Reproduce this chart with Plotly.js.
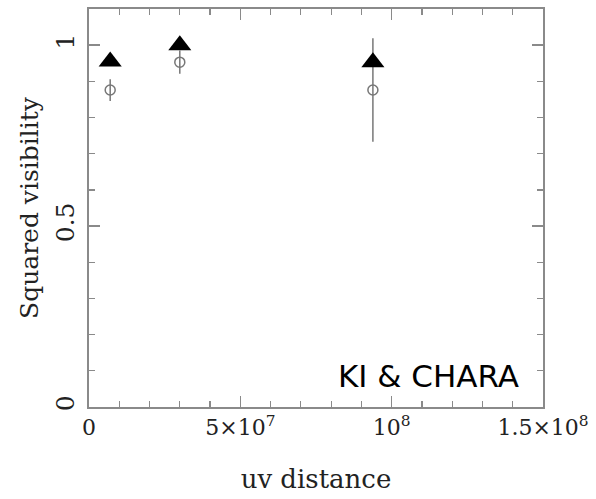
<!DOCTYPE html>
<html>
<head>
<meta charset="utf-8">
<script src="https://cdn.plot.ly/plotly-3.0.1.min.js"></script>
<style>html,body{margin:0;padding:0;background:#fff;}#chart{width:596px;height:499px;}</style>
</head>
<body>
<div id="chart"></div>
<script>
// uv distance of each baseline
const uvDistance = [7.0e6, 3.0e7, 9.38e7];
// Model squared visibilities (filled triangles)
const modelV2 = [0.955, 1.0, 0.953];
// Observed squared visibilities (open circles) and their errors
const obsV2 = [0.876, 0.953, 0.876];
const obsErr = [0.03, 0.032, 0.143];
// Tick labels
const xTickVals = [0, 5e7, 1e8, 1.5e8];
const xTickText = ['0', '5×10<sup>7</sup>', '10<sup>8</sup>', '1.5×10<sup>8</sup>'];
const yTickVals = [0, 0.5, 1];
const yTickText = ['0', '0.5', '1'];

const axisColor = '#8a8a8a';
const serif = 'DejaVu Serif, serif';
const textColor = '#222';

const traces = [
  {
    x: uvDistance, y: obsV2, type: 'scatter', mode: 'markers',
    marker: {symbol: 'circle-open', size: 10, color: '#777', line: {width: 1.5, color: '#777'}},
    error_y: {type: 'data', array: obsErr, visible: true, color: '#777', thickness: 1.5, width: 0},
    showlegend: false, hoverinfo: 'skip'
  },
  {
    x: uvDistance, y: modelV2, type: 'scatter', mode: 'markers',
    marker: {symbol: 'triangle-up', size: 20, color: '#000'},
    showlegend: false, hoverinfo: 'skip'
  }
];

const layout = {
  width: 596, height: 499,
  margin: {l: 89, r: 53, t: 9, b: 92},
  paper_bgcolor: '#fff', plot_bgcolor: '#fff',
  xaxis: {
    range: [0, 1.5e8], tickmode: 'array', tickvals: xTickVals, ticktext: xTickText,
    ticks: 'inside', ticklen: 11, tickwidth: 1.5, tickcolor: axisColor,
    minor: {dtick: 1e7, ticks: 'inside', ticklen: 6, tickwidth: 1.2, tickcolor: axisColor, showgrid: false},
    showline: true, linecolor: axisColor, linewidth: 2, mirror: 'allticks',
    showgrid: false, zeroline: false,
    ticklabelstandoff: 0,
    tickfont: {family: serif, size: 22, color: textColor},
    title: {text: 'uv distance', font: {family: serif, size: 26, color: textColor}, standoff: 30}
  },
  yaxis: {
    range: [0, 1.1], tickmode: 'array', tickvals: yTickVals, ticktext: yTickText,
    tickangle: -90,
    ticks: 'inside', ticklen: 11, tickwidth: 1.5, tickcolor: axisColor,
    minor: {dtick: 0.1, ticks: 'inside', ticklen: 6, tickwidth: 1.2, tickcolor: axisColor, showgrid: false},
    showline: true, linecolor: axisColor, linewidth: 2, mirror: 'allticks',
    showgrid: false, zeroline: false,
    ticklabelstandoff: 3,
    tickfont: {family: serif, size: 25, color: textColor},
    title: {text: 'Squared visibility', font: {family: serif, size: 25, color: textColor}, standoff: 5}
  },
  annotations: [{
    text: 'KI & CHARA', xref: 'paper', yref: 'paper', x: 0.952, y: 0.078,
    xanchor: 'right', yanchor: 'middle', showarrow: false,
    font: {family: 'DejaVu Sans, sans-serif', size: 31, color: '#000'}
  }]
};

Plotly.newPlot('chart', traces, layout, {displayModeBar: false, staticPlot: true});
</script>
</body>
</html>
